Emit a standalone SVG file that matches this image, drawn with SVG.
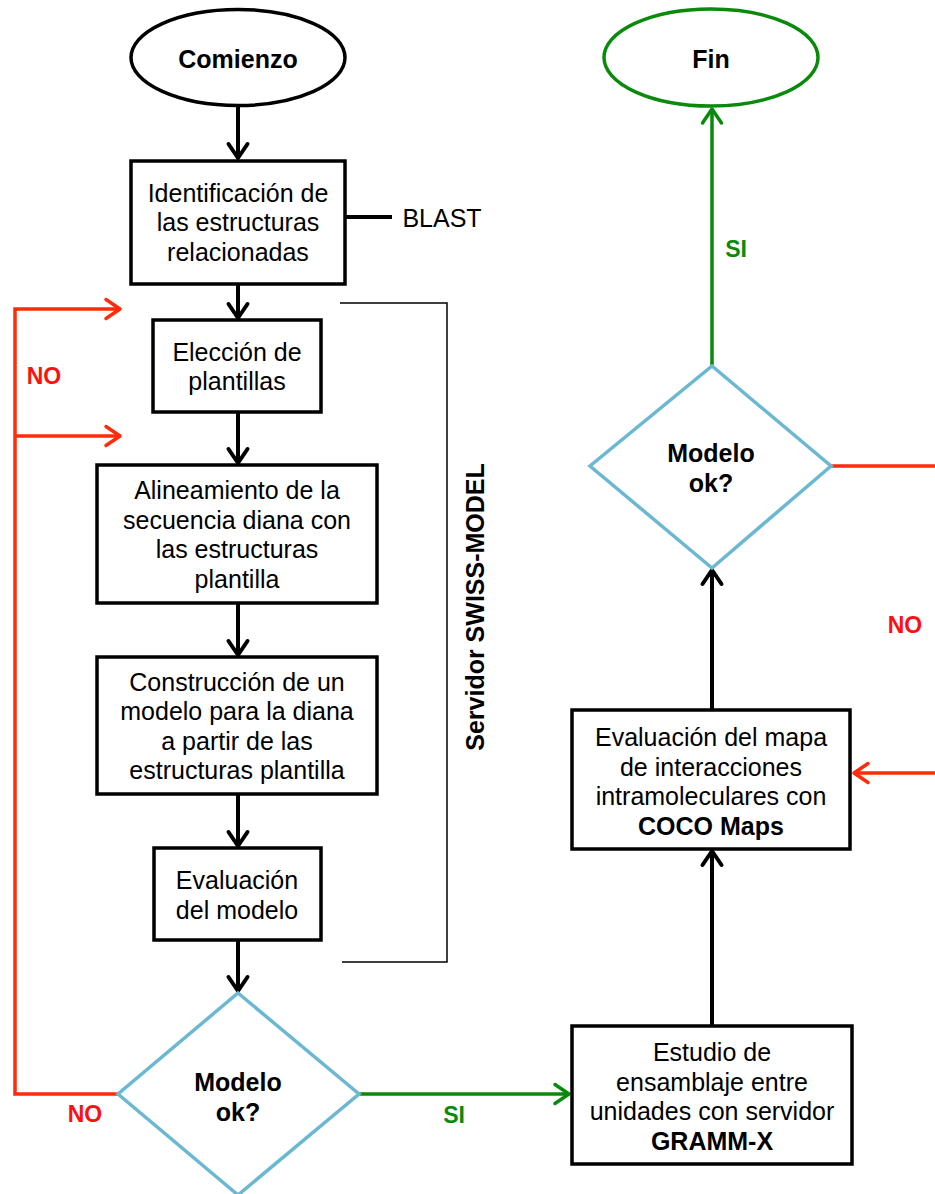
<svg xmlns="http://www.w3.org/2000/svg" width="935" height="1194" viewBox="0 0 935 1194">
<style>
.box{fill:#fff;stroke:#000;stroke-width:3.5}
.dia{fill:#fff;stroke:#6cb8d2;stroke-width:3.5}
.t{font-family:"Liberation Sans",Arial,sans-serif;font-size:25px;fill:#000;text-anchor:middle}
.b{font-weight:bold}
.bk{fill:none;stroke:#000;stroke-width:4}
.rd{fill:none;stroke:#ff2b0a;stroke-width:3.5}
.gr{fill:none;stroke:#0a8a0a;stroke-width:3.5}
.thin{fill:none;stroke:#000;stroke-width:1.5}
.lr{font-family:"Liberation Sans",Arial,sans-serif;font-size:23px;font-weight:bold;fill:#ff1010;text-anchor:middle}
.lg{font-family:"Liberation Sans",Arial,sans-serif;font-size:23px;font-weight:bold;fill:#0a8a0a;text-anchor:middle}
</style>
<defs>
<marker id="ak" markerUnits="userSpaceOnUse" viewBox="-20 -12 24 24" refX="0" refY="0" markerWidth="24" markerHeight="24" orient="auto" overflow="visible">
<path d="M-14,-9.5 L0,0 L-14,9.5" fill="none" stroke="#000" stroke-width="4" stroke-linecap="round" stroke-linejoin="round"/>
</marker>
<marker id="ar" markerUnits="userSpaceOnUse" viewBox="-20 -12 24 24" refX="0" refY="0" markerWidth="24" markerHeight="24" orient="auto" overflow="visible">
<path d="M-14,-9.5 L0,0 L-14,9.5" fill="none" stroke="#ff2b0a" stroke-width="3.5" stroke-linecap="round" stroke-linejoin="round"/>
</marker>
<marker id="ag" markerUnits="userSpaceOnUse" viewBox="-20 -12 24 24" refX="0" refY="0" markerWidth="24" markerHeight="24" orient="auto" overflow="visible">
<path d="M-14,-9.5 L0,0 L-14,9.5" fill="none" stroke="#0a8a0a" stroke-width="3.5" stroke-linecap="round" stroke-linejoin="round"/>
</marker>
</defs>
<rect width="935" height="1194" fill="#fff"/>

<g id="connectors">
<line class="bk" x1="238" y1="106" x2="238" y2="158" marker-end="url(#ak)"/>
<line class="bk" x1="238" y1="284" x2="238" y2="318" marker-end="url(#ak)"/>
<line class="bk" x1="238" y1="412" x2="238" y2="463" marker-end="url(#ak)"/>
<line class="bk" x1="238" y1="603" x2="238" y2="655" marker-end="url(#ak)"/>
<line class="bk" x1="238" y1="794" x2="238" y2="846" marker-end="url(#ak)"/>
<line class="bk" x1="238" y1="940" x2="238" y2="991" marker-end="url(#ak)"/>
<line class="bk" x1="345" y1="217" x2="392" y2="217"/>
<polyline class="thin" points="340,303 447,303 447,962 342,962"/>
<polyline class="rd" points="118,1094 15,1094 15,309 120,309" marker-end="url(#ar)"/>
<line class="rd" x1="15" y1="436" x2="120" y2="436" marker-end="url(#ar)"/>
<line class="gr" x1="359" y1="1094" x2="569" y2="1094" marker-end="url(#ag)"/>
<line class="bk" x1="712" y1="1026" x2="712" y2="851" marker-end="url(#ak)"/>
<line class="bk" x1="712" y1="710" x2="712" y2="570" marker-end="url(#ak)"/>
<line class="gr" x1="712" y1="366" x2="712" y2="109" marker-end="url(#ag)"/>
<line class="rd" x1="831" y1="466" x2="935" y2="466"/>
<line class="rd" x1="935" y1="773" x2="854" y2="773" marker-end="url(#ar)"/>
<text class="t" x="442" y="227">BLAST</text>
<text class="t b" transform="translate(484,607) rotate(-90)">Servidor SWISS-MODEL</text>
<text class="lr" x="44" y="384">NO</text>
<text class="lr" x="85" y="1122">NO</text>
<text class="lr" x="905" y="633">NO</text>
<text class="lg" x="454" y="1123">SI</text>
<text class="lg" x="736" y="257">SI</text>
</g>

<g id="start">
<ellipse cx="238" cy="57.5" rx="107" ry="48" fill="#fff" stroke="#000" stroke-width="3.5"/>
<text class="t b" x="238" y="68">Comienzo</text>
</g>

<g id="identificacion">
<rect class="box" x="131" y="161" width="214" height="123"/>
<text class="t" x="238" y="201.5">Identificación de</text>
<text class="t" x="238" y="231">las estructuras</text>
<text class="t" x="238" y="260.5">relacionadas</text>
</g>

<g id="eleccion">
<rect class="box" x="153" y="320" width="168" height="92"/>
<text class="t" x="237" y="361">Elección de</text>
<text class="t" x="237" y="390">plantillas</text>
</g>

<g id="alineamiento">
<rect class="box" x="97" y="465" width="280" height="138"/>
<text class="t" x="237" y="499">Alineamiento de la</text>
<text class="t" x="237" y="528.5">secuencia diana con</text>
<text class="t" x="237" y="558">las estructuras</text>
<text class="t" x="237" y="587.5">plantilla</text>
</g>

<g id="construccion">
<rect class="box" x="97" y="657" width="280" height="137"/>
<text class="t" x="237" y="690.5">Construcción de un</text>
<text class="t" x="237" y="720">modelo para la diana</text>
<text class="t" x="237" y="749.5">a partir de las</text>
<text class="t" x="237" y="779">estructuras plantilla</text>
</g>

<g id="evaluacion">
<rect class="box" x="154" y="848" width="167" height="92"/>
<text class="t" x="237" y="889">Evaluación</text>
<text class="t" x="237" y="918.5">del modelo</text>
</g>

<g id="decision1">
<polygon class="dia" points="238,993 359,1094 238,1195 118,1094"/>
<text class="t b" x="238" y="1091">Modelo</text>
<text class="t b" x="238" y="1121">ok?</text>
</g>

<g id="estudio">
<rect class="box" x="572" y="1026" width="280" height="138"/>
<text class="t" x="712" y="1061">Estudio de</text>
<text class="t" x="712" y="1090.5">ensamblaje entre</text>
<text class="t" x="712" y="1120">unidades con servidor</text>
<text class="t b" x="712" y="1149.5">GRAMM-X</text>
</g>

<g id="evaluacion-mapa">
<rect class="box" x="572" y="710" width="278" height="139"/>
<text class="t" x="711" y="746">Evaluación del mapa</text>
<text class="t" x="711" y="775.5">de interacciones</text>
<text class="t" x="711" y="805">intramoleculares con</text>
<text class="t b" x="711" y="834.5">COCO Maps</text>
</g>

<g id="decision2">
<polygon class="dia" points="712,366 831,466 712,568 590,466"/>
<text class="t b" x="711" y="462">Modelo</text>
<text class="t b" x="711" y="492">ok?</text>
</g>

<g id="end">
<ellipse cx="711" cy="57.5" rx="107" ry="48.5" fill="#fff" stroke="#0a8a0a" stroke-width="3.5"/>
<text class="t b" x="711" y="68">Fin</text>
</g>
</svg>
